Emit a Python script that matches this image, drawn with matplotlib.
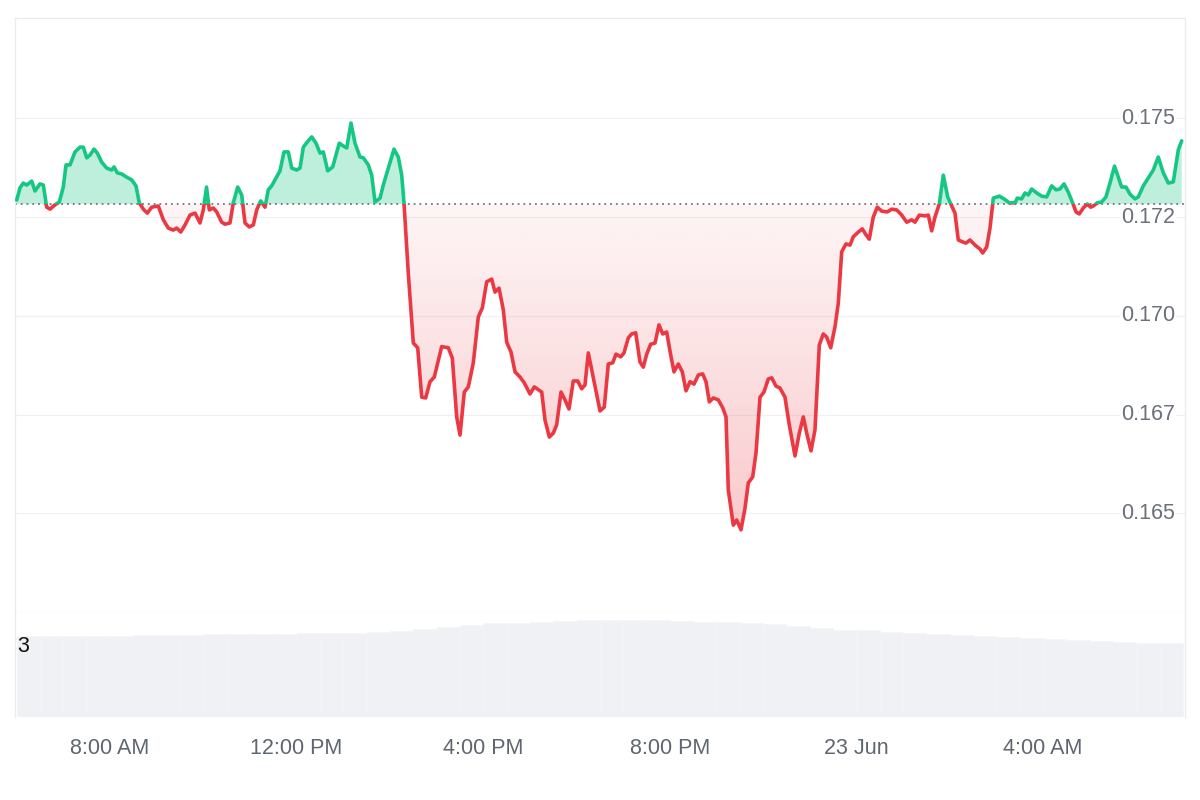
import matplotlib
matplotlib.use("Agg")
import matplotlib.pyplot as plt
import matplotlib.transforms as mtransforms
from matplotlib.path import Path
from matplotlib.patches import Rectangle
import numpy as np

plt.rcParams['font.family'] = ['Liberation Sans', 'DejaVu Sans']

# ---- data: time in hours since 00:00 22 Jun, price in USD ----
times = [
    6.000, 6.071, 6.141, 6.214, 6.322, 6.392, 6.499, 6.570, 6.643, 6.714, 6.821, 6.913, 6.999, 7.057, 7.143,
    7.250, 7.357, 7.428, 7.501, 7.571, 7.657, 7.728, 7.822, 7.929, 8.036, 8.086, 8.156, 8.251, 8.358, 8.465,
    8.557, 8.628, 8.714, 8.800, 8.894, 9.035, 9.143, 9.250, 9.357, 9.430, 9.516, 9.608, 9.715, 9.822, 9.929,
    10.000, 10.069, 10.129,
    10.214, 10.287, 10.394, 10.465, 10.572, 10.643, 10.737, 10.823, 10.894, 10.986, 11.072, 11.145, 11.230,
    11.323, 11.393, 11.466, 11.537, 11.644, 11.730, 11.822, 11.895, 12.002, 12.073, 12.144, 12.229, 12.324,
    12.416, 12.502, 12.572, 12.667, 12.774, 12.915, 13.001, 13.074, 13.166, 13.252, 13.359, 13.430, 13.537,
    13.610, 13.681, 13.788, 13.858, 13.966, 14.088, 14.180, 14.253, 14.302,
    14.394, 14.502, 14.596, 14.682, 14.767, 14.860, 14.952, 15.110, 15.252, 15.338, 15.432, 15.503, 15.595,
    15.681, 15.788, 15.895, 15.981, 16.075, 16.182, 16.253, 16.339, 16.431, 16.504, 16.596, 16.682, 16.789,
    16.881, 17.003, 17.095, 17.254, 17.325, 17.417, 17.503, 17.575, 17.668, 17.753, 17.839, 17.931, 18.026,
    18.111, 18.182, 18.253, 18.360, 18.504, 18.596, 18.682, 18.776,
    18.847, 18.947, 19.018, 19.110, 19.183, 19.269, 19.361, 19.432, 19.505, 19.590, 19.683, 19.768, 19.848,
    19.933, 20.019, 20.090, 20.182, 20.268, 20.347, 20.433, 20.519, 20.611, 20.705, 20.776, 20.847, 20.933,
    21.040, 21.134, 21.205, 21.254, 21.361, 21.434, 21.526, 21.612, 21.683, 21.777, 21.848, 21.934, 22.019,
    22.111, 22.184, 22.276, 22.362, 22.469, 22.561, 22.684, 22.776, 22.862, 22.934, 23.027, 23.112, 23.205,
    23.290, 23.363, 23.449, 23.541, 23.612, 23.685, 23.777,
    23.863, 23.933, 24.041, 24.126, 24.206, 24.276, 24.362, 24.448, 24.542, 24.662, 24.757, 24.864, 24.971,
    25.078, 25.185, 25.256, 25.348, 25.470, 25.541, 25.614, 25.685, 25.777, 25.863, 25.957, 26.043, 26.113,
    26.184, 26.278, 26.349, 26.435, 26.542, 26.649, 26.707, 26.793, 26.864, 26.935, 27.063, 27.164, 27.277,
    27.400, 27.449, 27.543, 27.614, 27.685, 27.758, 27.865, 27.972, 28.079, 28.186, 28.278, 28.364, 28.450,
    28.542, 28.636, 28.707, 28.778, 28.864, 28.950, 29.022, 29.078, 29.164, 29.258, 29.350, 29.436, 29.533,
    29.614, 29.687, 29.779, 29.865, 29.972, 30.043, 30.150, 30.257, 30.364, 30.471, 30.579, 30.686, 30.793,
    30.900, 30.973,
]
prices = [
    0.17293, 0.17324, 0.17336, 0.17331, 0.17341, 0.17316, 0.17334, 0.17331, 0.17275, 0.17270, 0.17281, 0.17288,
    0.17326, 0.17382, 0.17382, 0.17415, 0.17427, 0.17427, 0.17400, 0.17407, 0.17422, 0.17412, 0.17389, 0.17374,
    0.17369, 0.17377, 0.17362, 0.17359, 0.17351, 0.17344, 0.17329, 0.17286, 0.17270, 0.17260, 0.17275, 0.17278,
    0.17243, 0.17222, 0.17217, 0.17222, 0.17212, 0.17230, 0.17255, 0.17260, 0.17235, 0.17268, 0.17326, 0.17268,
    0.17273, 0.17263, 0.17237, 0.17232, 0.17235, 0.17286, 0.17326, 0.17306, 0.17235, 0.17225, 0.17230, 0.17268,
    0.17291, 0.17275, 0.17319, 0.17329, 0.17344, 0.17367, 0.17415, 0.17415, 0.17374, 0.17369, 0.17374, 0.17427,
    0.17440, 0.17453, 0.17437, 0.17412, 0.17415, 0.17367, 0.17377, 0.17437, 0.17430, 0.17425, 0.17488, 0.17437,
    0.17402, 0.17400, 0.17382, 0.17356, 0.17288, 0.17298, 0.17331, 0.17374, 0.17422, 0.17402, 0.17356, 0.17286,
    0.17108, 0.16931, 0.16919, 0.16794, 0.16792, 0.16833, 0.16845, 0.16922, 0.16919, 0.16893, 0.16744, 0.16698,
    0.16807, 0.16820, 0.16881, 0.16997, 0.17020, 0.17086, 0.17093, 0.17060, 0.17070, 0.17015, 0.16933, 0.16908,
    0.16858, 0.16845, 0.16830, 0.16802, 0.16820, 0.16807, 0.16736, 0.16693, 0.16703, 0.16724, 0.16807, 0.16787,
    0.16764, 0.16835, 0.16835, 0.16815, 0.16825, 0.16906, 0.16843, 0.16759, 0.16769, 0.16878, 0.16881,
    0.16903, 0.16896, 0.16906, 0.16944, 0.16954, 0.16957, 0.16883, 0.16870, 0.16903, 0.16928, 0.16931, 0.16977,
    0.16954, 0.16959, 0.16901, 0.16858, 0.16878, 0.16858, 0.16810, 0.16833, 0.16827, 0.16850, 0.16853, 0.16833,
    0.16782, 0.16792, 0.16787, 0.16767, 0.16744, 0.16559, 0.16470, 0.16483, 0.16458, 0.16513, 0.16577, 0.16592,
    0.16653, 0.16794, 0.16807, 0.16840, 0.16843, 0.16822, 0.16817, 0.16794, 0.16724, 0.16645, 0.16703, 0.16744,
    0.16703, 0.16658, 0.16711, 0.16926, 0.16954, 0.16946, 0.16919, 0.16972, 0.17032, 0.17162, 0.17182,
    0.17179, 0.17200, 0.17212, 0.17220, 0.17205, 0.17194, 0.17250, 0.17275, 0.17265, 0.17263, 0.17270, 0.17268,
    0.17255, 0.17237, 0.17243, 0.17237, 0.17255, 0.17253, 0.17255, 0.17215, 0.17250, 0.17283, 0.17356, 0.17301,
    0.17278, 0.17260, 0.17192, 0.17187, 0.17184, 0.17192, 0.17179, 0.17169, 0.17159, 0.17174, 0.17222, 0.17298,
    0.17303, 0.17296, 0.17286, 0.17286, 0.17298, 0.17296, 0.17311, 0.17306, 0.17321, 0.17311, 0.17303, 0.17301,
    0.17329, 0.17319, 0.17321, 0.17334, 0.17313, 0.17286, 0.17263, 0.17258, 0.17273, 0.17283, 0.17275, 0.17278,
    0.17286, 0.17288, 0.17301, 0.17336, 0.17379, 0.17351, 0.17326, 0.17326, 0.17308, 0.17296, 0.17301, 0.17329,
    0.17349, 0.17369, 0.17402, 0.17362, 0.17336, 0.17339, 0.17420, 0.17443,
]
baseline = 0.17283

# volume (bars every 30 min), arbitrary units matching the "3" tick
vol_times = [
    6.25, 6.75, 7.25, 7.75, 8.25, 8.75, 9.25, 9.75, 10.25, 10.75, 11.25, 11.75, 12.25, 12.75, 13.25, 13.75,
    14.25, 14.75, 15.25, 15.75, 16.25, 16.75, 17.25, 17.75, 18.25, 18.75, 19.25, 19.75, 20.25, 20.75, 21.25,
    21.75, 22.25, 22.75, 23.25, 23.75, 24.25, 24.75, 25.25, 25.75, 26.25, 26.75, 27.25, 27.75, 28.25, 28.75,
    29.25, 29.75, 30.25, 30.75,
]
volumes = [
    3.47, 3.47, 3.47, 3.49, 3.49, 3.51, 3.51, 3.51, 3.54, 3.54,
    3.56, 3.56, 3.58, 3.58, 3.62, 3.64, 3.69, 3.79, 3.86, 3.94,
    4.01, 4.05, 4.09, 4.11, 4.14, 4.16, 4.16, 4.14, 4.11, 4.09,
    4.07, 4.03, 3.99, 3.90, 3.81, 3.75, 3.71, 3.64, 3.60, 3.56,
    3.51, 3.47, 3.43, 3.39, 3.34, 3.30, 3.26, 3.21, 3.19, 3.17,
]

x_ticks = [8, 12, 16, 20, 24, 28]
x_labels = ["8:00 AM", "12:00 PM", "4:00 PM", "8:00 PM", "23 Jun", "4:00 AM"]
y_ticks = [0.175, 0.1725, 0.170, 0.1675, 0.165]
y_labels = ["0.175", "0.172", "0.170", "0.167", "0.165"]

GREEN = "#16c784"
RED = "#ea3943"
BORDER = "#e9ebee"
XMIN, XMAX = 5.9635, 31.044
YMIN, YMAX = 0.16250, 0.17754

fig = plt.figure(figsize=(12, 8), dpi=100)
fig.patch.set_facecolor("white")
axp = fig.add_axes([0.0125, 0.235, 0.975, 0.7425])
axv = fig.add_axes([0.0125, 0.10375, 0.975, 0.13125])

t = np.array(times)
p = np.array(prices)

# grid
for g in y_ticks:
    axp.axhline(g, color="#f0f1f3", lw=0.9, zorder=0.5)

# green fill
axp.fill_between(t, p, baseline, where=p >= baseline, interpolate=True,
                 color=GREEN, alpha=0.28, lw=0, zorder=2)

# red gradient fill
red_poly = axp.fill_between(t, p, baseline, where=p <= baseline, interpolate=True,
                            facecolor="none", edgecolor="none")
clip = Path.make_compound_path(*red_poly.get_paths())
n = 256
grad = np.zeros((n, 1, 4))
grad[..., :3] = np.array([234, 57, 67]) / 255.0
grad[:, 0, 3] = np.linspace(0.27, 0.05, n)
im = axp.imshow(grad, extent=[t[0], t[-1], p.min(), baseline], origin="lower",
                aspect="auto", zorder=2, interpolation="bilinear")
im.set_clip_path(clip, axp.transData)

# baseline dotted
axp.axhline(baseline, color="#6f7580", lw=1.3, ls=(0, (1, 2.2)), zorder=2.5)

# price line, coloured by side of baseline
lg, = axp.plot(t, p, color=GREEN, lw=2.6, zorder=3, solid_joinstyle="round", solid_capstyle="round")
lr, = axp.plot(t, p, color=RED, lw=2.6, zorder=3, solid_joinstyle="round", solid_capstyle="round")
lg.set_clip_path(Rectangle((XMIN - 1, baseline), XMAX - XMIN + 2, 1.0, transform=axp.transData))
lr.set_clip_path(Rectangle((XMIN - 1, 0.0), XMAX - XMIN + 2, baseline, transform=axp.transData))

axp.set_xlim(XMIN, XMAX)
axp.set_ylim(YMIN, YMAX)
axp.set_xticks([])
axp.set_yticks([])
for s in axp.spines.values():
    s.set_color(BORDER)
    s.set_linewidth(0.9)

trans = mtransforms.blended_transform_factory(axp.transAxes, axp.transData)
for v, lab in zip(y_ticks, y_labels):
    axp.text(0.9915, v, lab, transform=trans, ha="right", va="center", fontsize=15.5,
             color="#6b7079", zorder=1,
             bbox=dict(facecolor="white", edgecolor="none", pad=1.0))

# volume panel
axv.bar(vol_times, volumes, width=0.5, color="#eff1f5", edgecolor="#f3f4f7", linewidth=0.4, zorder=1)
axv.set_xlim(XMIN, XMAX)
axv.set_ylim(0, 4.5)
axv.set_yticks([])
axv.set_xticks(x_ticks)
axv.set_xticklabels(x_labels, fontsize=15.5, color="#5f6670")
axv.tick_params(axis="x", length=0, pad=15)
for k, s in axv.spines.items():
    s.set_color(BORDER)
    s.set_linewidth(0.9)
axv.spines["top"].set_visible(False)
axv.spines["bottom"].set_visible(False)

fig.text(17 / 1200, 1 - 647 / 800, "3", ha="left", va="center", fontsize=15.5, color="#111111")

fig.savefig("out.png", dpi=100, facecolor="white")
